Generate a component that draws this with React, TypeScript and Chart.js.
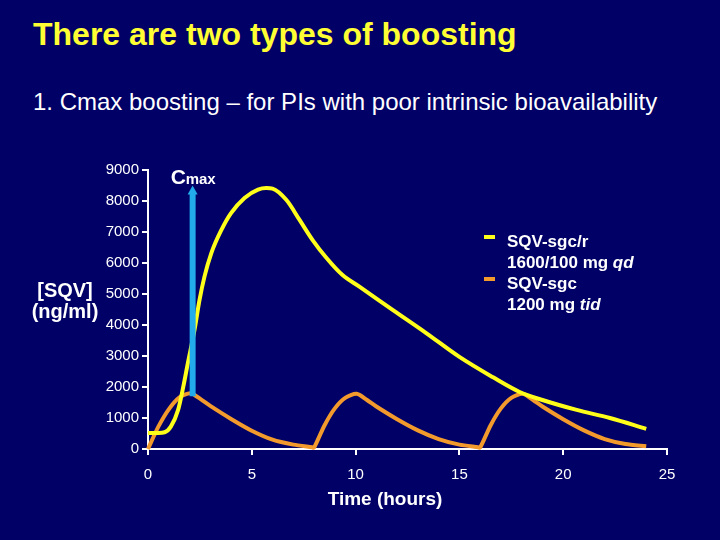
import React, { useEffect, useRef } from "react";
import { Chart, registerables } from "chart.js";

Chart.register(...registerables);

// ---- data ----
const yellowTime = [0, 0.5, 0.8, 1.1, 1.45, 1.7, 1.92, 2.24, 2.48, 2.72, 3.05, 3.53, 4.0, 4.65, 5.3, 5.7, 6.0, 6.67, 7.3, 7.93, 8.6, 9.37, 10.2, 11.8, 13.4, 15.0, 16.6, 17.9, 19.0, 20.65, 22.25, 24.0];
const yellowConc = [520, 520, 540, 720, 1260, 2010, 2770, 3840, 4800, 5560, 6320, 7060, 7610, 8100, 8370, 8420, 8400, 8030, 7390, 6740, 6160, 5610, 5230, 4480, 3740, 2970, 2320, 1840, 1580, 1260, 1000, 650];

const orangeTime = [0, 0.5, 1.0, 1.5, 2.05, 2.55, 3, 4, 5, 6, 7, 7.9, 8.0, 8.5, 9.0, 9.5, 10.05, 10.55, 11, 12, 13, 14, 15, 15.9, 16.0, 16.5, 17.0, 17.5, 18.05, 18.55, 19, 20, 21, 22, 23, 24];
const orangeConc = [0, 720, 1280, 1660, 1800, 1600, 1390, 970, 590, 300, 140, 55, 45, 760, 1310, 1650, 1780, 1580, 1370, 960, 600, 320, 140, 55, 45, 760, 1310, 1650, 1780, 1580, 1370, 960, 600, 320, 160, 90];

const seriesNames = ["SQV-sgc/r", "SQV-sgc"];
const seriesDoses = [["1600/100 mg ", "qd"], ["1200 mg ", "tid"]];
const xTicks = [0, 5, 10, 15, 20, 25];
const yTicks = [0, 1000, 2000, 3000, 4000, 5000, 6000, 7000, 8000, 9000];

// Cmax arrow (data coordinates)
const cmaxTime = 2.15;
const cmaxArrowFrom = 1700;
const cmaxArrowTo = 8500;

const BG = "#010066";
const YELLOW = "#FFFF1A";
const ORANGE = "#F39A2C";
const BLUE = "#22ACEC";
const FONT = "'Liberation Sans', Arial, Helvetica, sans-serif";

const arrowPlugin = {
  id: "cmaxArrow",
  afterDatasetsDraw(chart: any) {
    const { ctx, scales } = chart;
    const x = scales.x;
    const y = scales.y;
    const px = x.getPixelForValue(cmaxTime);
    const yb = y.getPixelForValue(cmaxArrowFrom);
    const yt = y.getPixelForValue(cmaxArrowTo);
    ctx.save();
    ctx.strokeStyle = BLUE;
    ctx.lineWidth = 6;
    ctx.lineCap = "butt";
    ctx.beginPath();
    ctx.moveTo(px, yb);
    ctx.lineTo(px, yt + 7);
    ctx.stroke();
    ctx.fillStyle = BLUE;
    ctx.beginPath();
    ctx.moveTo(px, yt);
    ctx.lineTo(px - 5, yt + 9);
    ctx.lineTo(px + 5, yt + 9);
    ctx.closePath();
    ctx.fill();
    // label
    ctx.fillStyle = "#FFFFFF";
    ctx.textBaseline = "alphabetic";
    ctx.textAlign = "left";
    ctx.font = `bold 21px ${FONT}`;
    ctx.fillText("C", px - 22, yt - 2);
    ctx.font = `bold 15px ${FONT}`;
    ctx.fillText("max", px - 7, yt - 2);
    ctx.restore();
  },
};

export default function App() {
  const ref = useRef<HTMLCanvasElement | null>(null);

  useEffect(() => {
    if (!ref.current) return;
    const chart = new Chart(ref.current, {
      type: "line",
      data: {
        datasets: [
          {
            label: seriesNames[0],
            data: yellowTime.map((t, i) => ({ x: t, y: yellowConc[i] })),
            borderColor: YELLOW,
            borderWidth: 4,
            pointRadius: 0,
            cubicInterpolationMode: "monotone",
            fill: false,
            clip: 8,
          },
          {
            label: seriesNames[1],
            data: orangeTime.map((t, i) => ({ x: t, y: orangeConc[i] })),
            borderColor: ORANGE,
            borderWidth: 4,
            pointRadius: 0,
            tension: 0.25,
            fill: false,
            clip: 8,
          },
        ],
      },
      options: {
        animation: false,
        responsive: false,
        maintainAspectRatio: false,
        layout: { padding: { left: 78, right: 53, top: 170, bottom: 51 } },
        plugins: { legend: { display: false }, tooltip: { enabled: false } },
        scales: {
          x: {
            type: "linear",
            min: xTicks[0],
            max: xTicks[xTicks.length - 1],
            afterBuildTicks: (s: any) => {
              s.ticks = xTicks.map((v) => ({ value: v }));
            },
            ticks: { color: "#FFFFFF", font: { family: FONT, size: 15 }, padding: 11, maxRotation: 0, callback: (v: any) => String(v) },
            grid: { drawOnChartArea: false, drawTicks: true, tickLength: 6, color: "#FFFFFF", lineWidth: 2 },
            border: { display: true, color: "#FFFFFF", width: 2 },
            afterFit: (s: any) => {
              s.height = 40;
            },
          },
          y: {
            type: "linear",
            min: yTicks[0],
            max: yTicks[yTicks.length - 1],
            afterBuildTicks: (s: any) => {
              s.ticks = yTicks.map((v) => ({ value: v }));
            },
            ticks: { color: "#FFFFFF", font: { family: FONT, size: 15 }, padding: 3, callback: (v: any) => String(v) },
            grid: { drawOnChartArea: false, drawTicks: true, tickLength: 6, color: "#FFFFFF", lineWidth: 2 },
            border: { display: true, color: "#FFFFFF", width: 2 },
            afterFit: (s: any) => {
              s.width = 70;
            },
          },
        },
      },
      plugins: [arrowPlugin],
    } as any);
    return () => chart.destroy();
  }, []);

  const legendColors = [YELLOW, ORANGE];

  return (
    <div
      style={{
        position: "fixed",
        left: 0,
        top: 0,
        width: 720,
        height: 540,
        background: BG,
        overflow: "hidden",
        fontFamily: FONT,
      }}
    >
      <div style={{ position: "absolute", left: 33, top: 18, fontSize: 32, lineHeight: "32px", fontWeight: "bold", color: "#FFFF33", whiteSpace: "nowrap" }}>
        There are two types of boosting
      </div>
      <div style={{ position: "absolute", left: 33, top: 90, fontSize: 24, lineHeight: "24px", color: "#FFFFFF", whiteSpace: "nowrap" }}>
        1. Cmax boosting – for PIs with poor intrinsic bioavailability
      </div>
      <canvas ref={ref} width={720} height={540} style={{ position: "absolute", left: 0, top: 0, width: 720, height: 540 }} />
      <div style={{ position: "absolute", left: 20, top: 280, width: 90, textAlign: "center", fontSize: 20, lineHeight: "21px", fontWeight: "bold", color: "#FFFFFF" }}>
        [SQV]
        <br />
        (ng/ml)
      </div>
      <div style={{ position: "absolute", left: 285, top: 489, width: 200, textAlign: "center", fontSize: 19, lineHeight: "19px", fontWeight: "bold", color: "#FFFFFF" }}>
        Time (hours)
      </div>
      {seriesNames.map((name, i) => (
        <React.Fragment key={name}>
          <div style={{ position: "absolute", left: 484, top: 235 + i * 42, width: 11, height: 4, background: legendColors[i] }} />
          <div style={{ position: "absolute", left: 507, top: 231 + i * 42, fontSize: 17, lineHeight: "21px", fontWeight: "bold", color: "#FFFFFF", whiteSpace: "nowrap" }}>
            {name}
            <br />
            {seriesDoses[i][0]}
            <i>{seriesDoses[i][1]}</i>
          </div>
        </React.Fragment>
      ))}
    </div>
  );
}
